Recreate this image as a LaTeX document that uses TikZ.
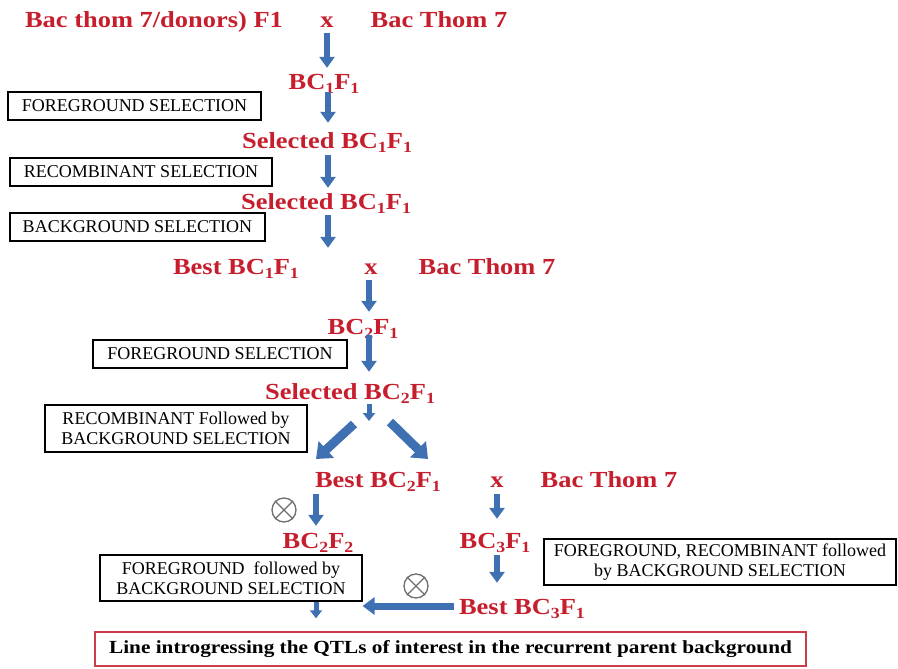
\documentclass[tikz,border=0pt]{standalone}
\usepackage{fontspec}
\setmainfont{Liberation Serif}
\newfontfamily\redfont[FakeStretch=1.15]{Liberation Serif}
\newfontfamily\finalfont[FakeStretch=1.15]{Liberation Serif}
\usetikzlibrary{arrows.meta}
\definecolor{redtxt}{RGB}{198,30,45}
\definecolor{arrblue}{RGB}{62,112,178}
\definecolor{boxred}{RGB}{205,60,75}
\definecolor{symgray}{RGB}{110,110,110}
\newcommand\sbs[1]{\raisebox{-4pt}{\fontsize{15.5}{15.5}\selectfont #1}}
\begin{document}
\begin{tikzpicture}[x=1pt,y=-1pt,
  lbl/.style={text=redtxt, font=\redfont\bfseries\fontsize{23}{23}\selectfont, inner sep=0pt, text height=15pt, text depth=5pt, anchor=base},
  blk/.style={draw=black, line width=1.1pt, font=\fontsize{18}{19.5}\selectfont, inner sep=0pt, align=center},
  barrow/.style={draw=arrblue, line width=6pt, -{Triangle[width=15pt,length=11pt]}},
  sarrow/.style={draw=arrblue, line width=5pt, -{Triangle[width=12pt,length=8pt]}},
  darrow/.style={draw=arrblue, line width=9pt, -{Triangle[width=22pt,length=14pt]}},
  harrow/.style={draw=arrblue, line width=7pt, -{Triangle[width=17pt,length=12pt]}},
  selfing/.style={circle, draw=symgray, line width=1.3pt, minimum size=24pt, inner sep=0pt},
]
\useasboundingbox (0,0) rectangle (898,669);

% red labels
\node[lbl] (top1) at (154,28) {Bac thom 7/donors) F1};
\node[lbl] (x1) at (327,28) {x};
\node[lbl] (bt1) at (439,28) {Bac Thom 7};
\node[lbl] (bc11) at (324,90) {BC\sbs{1}F\sbs{1}};
\node[lbl] (sel1) at (327,149) {Selected BC\sbs{1}F\sbs{1}};
\node[lbl] (sel1b) at (326,209) {Selected BC\sbs{1}F\sbs{1}};
\node[lbl] (best1) at (236,274) {Best BC\sbs{1}F\sbs{1}};
\node[lbl] (x2) at (371,274) {x};
\node[lbl] (bt2) at (487,274) {Bac Thom 7};
\node[lbl] (bc21) at (363,334) {BC\sbs{2}F\sbs{1}};
\node[lbl] (sel2) at (350,399) {Selected BC\sbs{2}F\sbs{1}};
\node[lbl] (best2) at (378,487) {Best BC\sbs{2}F\sbs{1}};
\node[lbl] (x3) at (497,487) {x};
\node[lbl] (bt3) at (609,487) {Bac Thom 7};
\node[lbl] (bc22) at (318,548) {BC\sbs{2}F\sbs{2}};
\node[lbl] (bc31) at (495,548) {BC\sbs{3}F\sbs{1}};
\node[lbl] (best3) at (522,614) {Best BC\sbs{3}F\sbs{1}};

% black boxes
\node[blk, minimum width=253pt, minimum height=28pt] (fb1) at (134.5,106) {FOREGROUND SELECTION};
\node[blk, minimum width=262pt, minimum height=28pt] (rb1) at (141,172) {RECOMBINANT SELECTION};
\node[blk, minimum width=255pt, minimum height=28pt] (bb1) at (137.5,227) {BACKGROUND SELECTION};
\node[blk, minimum width=254pt, minimum height=28pt] (fb2) at (220,354) {FOREGROUND SELECTION};
\node[blk, minimum width=262pt, minimum height=47pt] (rbb) at (176,428.5) {RECOMBINANT Followed by\\BACKGROUND SELECTION};
\node[blk, minimum width=262pt, minimum height=46pt] (fbb) at (231,578) {FOREGROUND\ \ followed by\\BACKGROUND SELECTION};
\node[blk, minimum width=352pt, minimum height=46pt] (frb) at (720,562) {FOREGROUND, RECOMBINANT followed\\by BACKGROUND SELECTION};
\node[draw=boxred, line width=1.4pt, minimum width=711pt, minimum height=34pt, inner sep=0pt,
      font=\finalfont\bfseries\fontsize{18.5}{20}\selectfont] (final) at (450.5,649) {Line introgressing\ the QTLs\ of interest in the recurrent parent background};

% selfing symbols
\node[selfing] (o1) at (284,510) {};
\draw[symgray, line width=1.3pt] (o1.north west) -- (o1.south east) (o1.north east) -- (o1.south west);
\node[selfing] (o2) at (416,586) {};
\draw[symgray, line width=1.3pt] (o2.north west) -- (o2.south east) (o2.north east) -- (o2.south west);

% column helpers
\coordinate (c1) at (328,0);
\coordinate (c2) at (369,0);
\coordinate (sp) at (369,421);
\coordinate (dls) at (354,424);
\coordinate (dlt) at (316,459);
\coordinate (drs) at (390,422);
\coordinate (drt) at (428,459);

% arrows
\draw[barrow, shorten >=7pt] (x1.south) -- (x1.south |- bc11.north);
\draw[barrow, shorten <=-3pt, shorten >=11pt] (bc11.south -| c1) -- (sel1.north -| c1);
\draw[barrow, shorten <=1pt, shorten >=6pt] (sel1.south -| c1) -- (sel1b.north -| c1);
\draw[barrow, shorten <=1pt, shorten >=11pt] (sel1b.south -| c1) -- (x2.north -| c1);
\draw[barrow, shorten <=1pt, shorten >=7pt] (x2.south -| c2) -- (bc21.north -| c2);
\draw[barrow, shorten <=-4pt, shorten >=12pt] (bc21.south -| c2) -- (sel2.north -| c2);
\draw[sarrow] (sel2.south -| c2) -- (sp);
\draw[darrow] (dls) -- (dlt);
\draw[darrow] (drs) -- (drt);
\draw[barrow, shorten <=2pt, shorten >=7pt] (best2.south -| dlt) -- (bc22.north -| dlt);
\draw[barrow, shorten <=2pt, shorten >=14pt] (x3.south) -- (x3.south |- bc31.north);
\draw[barrow, shorten <=2pt, shorten >=16pt] (bc31.south -| x3) -- (best3.north -| x3);
\draw[harrow, shorten <=5pt] ([yshift=3pt]best3.west) -- ([yshift=3pt]best3.west -| fbb.east);
\draw[sarrow, shorten >=13pt] (fbb.south -| dlt) -- (final.north -| dlt);
\end{tikzpicture}
\end{document}
